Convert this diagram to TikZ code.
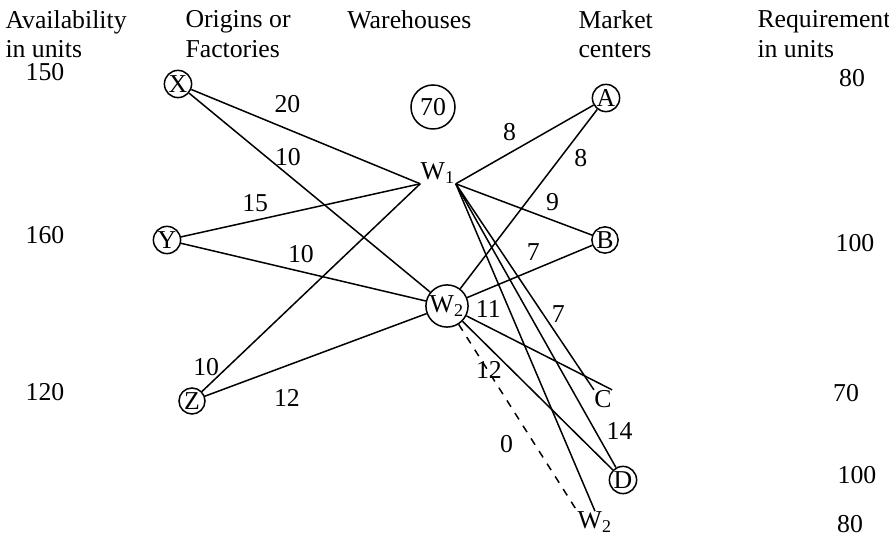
\documentclass[tikz,border=0pt]{standalone}
\usepackage{fontspec}
\setmainfont{Liberation Serif}
\usetikzlibrary{positioning}

\begin{document}
\begin{tikzpicture}[x=0.4pt, y=-0.4pt,
  font=\fontsize{10.3}{11.8}\selectfont,
  site/.style={draw, semithick, circle, inner sep=0.3pt, minimum size=10.4pt},
  head/.style={anchor=north west, inner sep=0pt, align=left},
  route/.style={semithick}]
  \useasboundingbox (0,0) rectangle (889,537);

  % Column headings
  \node[head] (havail) at (5,10) {Availability\\in units};
  \node[head] (horig) at (185,10) {Origins or\\Factories};
  \node[head] (hware) at (347,10) {Warehouses};
  \node[head] (hmark) at (578,10) {Market\\centers};
  \node[head] (hreq) at (757,10) {Requirement\\in units};

  % Availability and requirement
  \node (avx) at (45,72) {150};
  \node (avy) at (45,235) {160};
  \node (avz) at (45,392) {120};
  \node (rqa) at (852,78) {80};
  \node (rqb) at (855,243) {100};
  \node (rqc) at (846,393) {70};
  \node (rqd) at (857,475) {100};
  \node (rqw) at (850,524) {80};

  % Factories
  \node[site] (x) at (178,84) {X};
  \node[site] (y) at (167,240) {Y};
  \node[site] (z) at (192,401) {Z};

  % Warehouses
  \node[site, inner sep=0pt, minimum size=17.6pt] (cap) at (433,107) {70};
  \node[inner sep=0pt] (w1) at (438,173) {W\textsubscript{1}};
  \node[site, minimum size=16.8pt] (w2) at (447,306) {W\textsubscript{2}};

  % Market centers
  \node[site] (a) at (606,98) {A};
  \node[site] (b) at (605,240) {B};
  \node[inner sep=0pt] (c) at (603,399) {C};
  \node[site] (d) at (623,480) {D};
  \node[inner sep=0pt] (w2d) at (595,522) {W\textsubscript{2}};

  % Factories to warehouses
  \draw[route] (x) -- (w1.south west) node[pos=0.42, above=3pt] {20};
  \draw[route] (x) -- (w2) node[pos=0.41, above] {10};
  \draw[route] (y) -- (w1.south west) node[pos=0.31, above] {15};
  \draw[route] (y) -- (w2) node[pos=0.49, above] {10};
  \draw[route] (z) -- (w1.south west) node[pos=0.12, left] {10};
  \draw[route] (z) -- (w2) node[pos=0.37, below=6pt] {12};

  % Warehouses to market centers
  \draw[route] (w1.south east) -- (a) node[pos=0.39, above=1.5pt] {8};
  \draw[route] (w2) -- (a) node[pos=0.73, right=2pt] {8};
  \draw[route] (w1.south east) -- (b) node[pos=0.71, above] {9};
  \draw[route] (w2) -- (b) node[pos=0.53, above] {7};
  \draw[route] (w1.south east) -- (c.north west) node[pos=0.63, right] {7};
  \draw[route] (w2) -- (c.north east) node[pos=0.15, above] {11};
  \draw[route] (w1.south east) -- (d) node[pos=0.87, right=1pt] {14};
  \draw[route] (w2) -- (d) node[pos=0.33, left=0.5pt] {12};
  \draw[route] (w1.south east) -- (w2d.north);
  \draw[route, dashed] (w2) -- (w2d.north west) node[pos=0.64, left=5pt] {0};
\end{tikzpicture}
\end{document}
